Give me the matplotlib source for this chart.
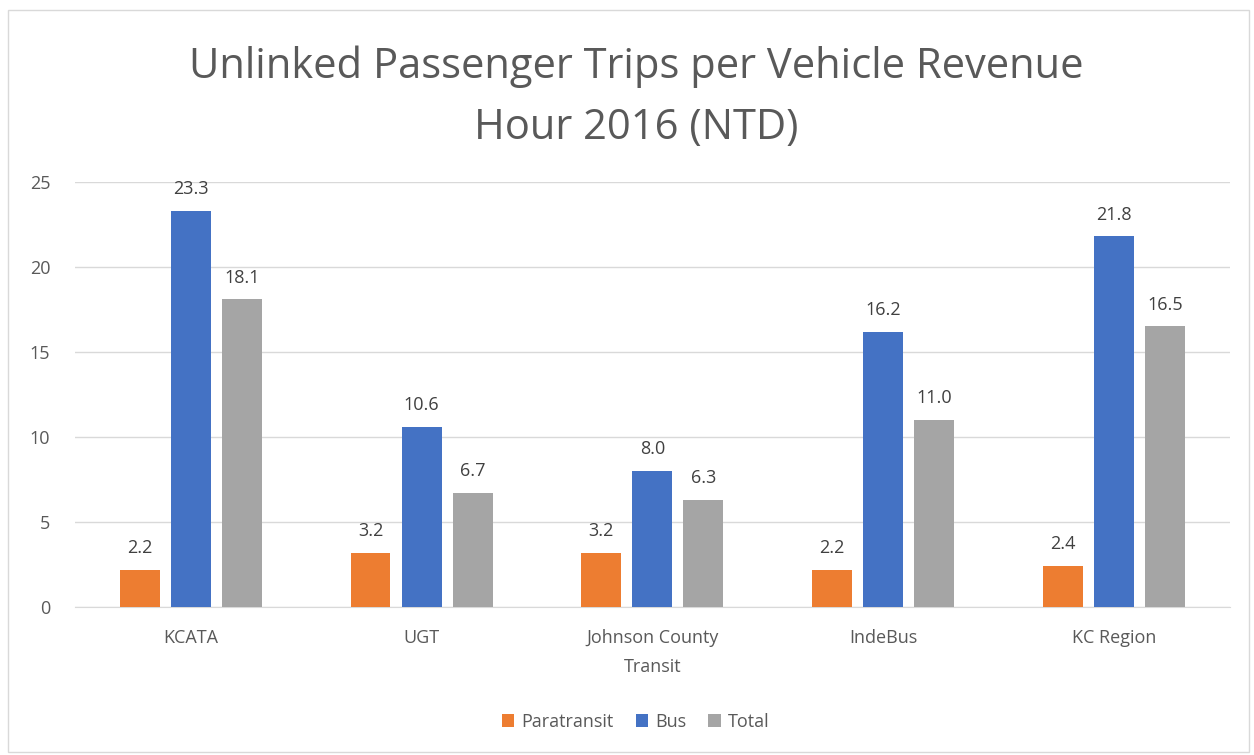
import matplotlib.pyplot as plt
from matplotlib.patches import Rectangle
import numpy as np

# Data
categories = ["KCATA", "UGT", "Johnson County\nTransit", "IndeBus", "KC Region"]
paratransit = [2.2, 3.2, 3.2, 2.2, 2.4]
bus = [23.3, 10.6, 8.0, 16.2, 21.8]
total = [18.1, 6.7, 6.3, 11.0, 16.5]
series_names = ["Paratransit", "Bus", "Total"]
colors = ["#ED7D31", "#4472C4", "#A5A5A5"]

plt.rcParams['font.family'] = ['Open Sans', 'DejaVu Sans']

fig = plt.figure(figsize=(12.54, 7.55), dpi=100)
ax = fig.add_axes([0.0600, 0.196, 0.9205, 0.563])

x = np.arange(len(categories))
width = 0.173
step = 0.221
for i, (vals, name, c) in enumerate(zip([paratransit, bus, total], series_names, colors)):
    pos = x + (i - 1) * step
    bars = ax.bar(pos, vals, width, color=c, label=name, zorder=3)
    for b, v in zip(bars, vals):
        ax.text(b.get_x() + b.get_width() / 2, v + 0.75, f"{v:.1f}",
                ha='center', va='bottom', fontsize=13, color='#404040')

ax.set_xlim(-0.5, len(categories) - 0.5)
ax.set_ylim(0, 25)
ax.set_yticks(range(0, 26, 5))
ax.set_xticks(x)
ax.set_xticklabels(categories, fontsize=13, color='#595959', linespacing=1.8)
ax.tick_params(axis='y', labelsize=13, labelcolor='#595959', length=0, pad=18)
ax.tick_params(axis='x', length=0, pad=16)
ax.grid(axis='y', color='#D9D9D9', linewidth=1, zorder=0)
for s in ['top', 'right', 'left']:
    ax.spines[s].set_visible(False)
ax.spines['bottom'].set_color('#D9D9D9')

fig.suptitle("Unlinked Passenger Trips per Vehicle Revenue\nHour 2016 (NTD)",
             x=0.507, y=0.94, fontsize=30, color='#595959', linespacing=1.6)

fig.legend(loc='center', bbox_to_anchor=(0.507, 0.044), ncol=3, frameon=False,
           fontsize=13, labelcolor='#595959', handlelength=0.7, handleheight=0.7,
           handletextpad=0.4, columnspacing=1.2)

fig.patches.append(Rectangle((0.006, 0.004), 0.99, 0.983, transform=fig.transFigure,
                             fill=False, edgecolor='#D9D9D9', linewidth=1))

fig.savefig("out.png", dpi=100)
